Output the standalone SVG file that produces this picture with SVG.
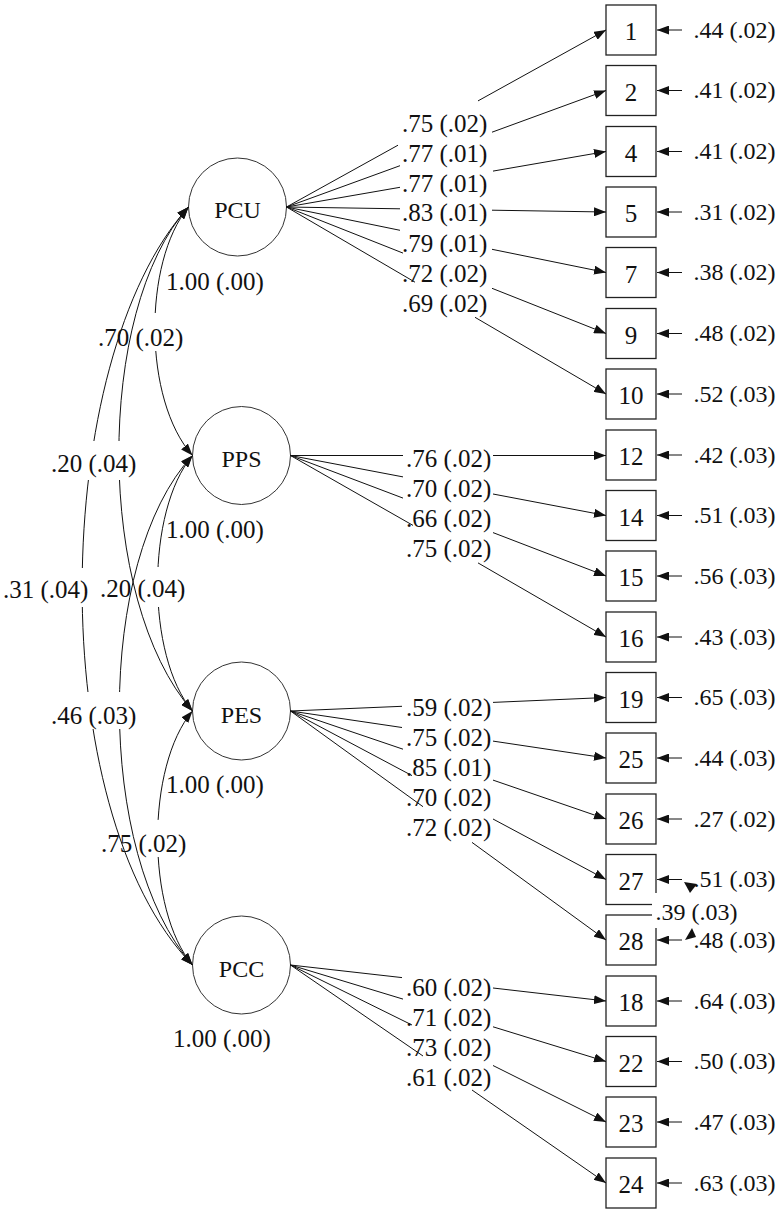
<svg xmlns="http://www.w3.org/2000/svg" width="780" height="1213" viewBox="0 0 780 1213">
<defs>
<marker id="ah" markerUnits="userSpaceOnUse" markerWidth="12" markerHeight="9" refX="12" refY="4.5" orient="auto-start-reverse"><path d="M0,0 L12,4.5 L0,9 z" fill="#111"/></marker>
<style>
.ln{fill:none;stroke:#111;stroke-width:1}
.arr{marker-end:url(#ah)}
.cv{marker-start:url(#ah);marker-end:url(#ah)}
.lat{fill:#fff;stroke:#333;stroke-width:1}
.obs{fill:#fff;stroke:#222;stroke-width:1.3}
.bg{fill:#fff}
text{font-family:"Liberation Serif","Times New Roman",serif;fill:#111}
.lb{font-size:25px}
.er{font-size:24px}
.bx{font-size:25px;text-anchor:middle}
.lt{font-size:24px;text-anchor:middle}
</style>
</defs>
<rect width="780" height="1213" fill="#fff"/>
<g id="nodes">
<g id="PCU"><circle class="lat" cx="237.5" cy="207" r="49"/><text class="lt" x="237.5" y="218">PCU</text></g>
<g id="PPS"><circle class="lat" cx="241.5" cy="455.5" r="49"/><text class="lt" x="241.5" y="467">PPS</text></g>
<g id="PES"><circle class="lat" cx="241.5" cy="711" r="49"/><text class="lt" x="241.5" y="722.5">PES</text></g>
<g id="PCC"><circle class="lat" cx="241.5" cy="965" r="49"/><text class="lt" x="241.5" y="976.5">PCC</text></g>
<g id="i1"><rect class="obs" x="606" y="5" width="50" height="50"/><text class="bx" x="631" y="40">1</text></g>
<g id="i2"><rect class="obs" x="606" y="65.5" width="50" height="50"/><text class="bx" x="631" y="100.5">2</text></g>
<g id="i4"><rect class="obs" x="606" y="126.5" width="50" height="50"/><text class="bx" x="631" y="161.5">4</text></g>
<g id="i5"><rect class="obs" x="606" y="187" width="50" height="50"/><text class="bx" x="631" y="222">5</text></g>
<g id="i7"><rect class="obs" x="606" y="247.5" width="50" height="50"/><text class="bx" x="631" y="282.5">7</text></g>
<g id="i9"><rect class="obs" x="606" y="308.5" width="50" height="50"/><text class="bx" x="631" y="343.5">9</text></g>
<g id="i10"><rect class="obs" x="606" y="369" width="50" height="50"/><text class="bx" x="631" y="404">10</text></g>
<g id="i12"><rect class="obs" x="606" y="430" width="50" height="50"/><text class="bx" x="631" y="465">12</text></g>
<g id="i14"><rect class="obs" x="606" y="490.5" width="50" height="50"/><text class="bx" x="631" y="525.5">14</text></g>
<g id="i15"><rect class="obs" x="606" y="551" width="50" height="50"/><text class="bx" x="631" y="586">15</text></g>
<g id="i16"><rect class="obs" x="606" y="612" width="50" height="50"/><text class="bx" x="631" y="647">16</text></g>
<g id="i19"><rect class="obs" x="606" y="672.5" width="50" height="50"/><text class="bx" x="631" y="707.5">19</text></g>
<g id="i25"><rect class="obs" x="606" y="733" width="50" height="50"/><text class="bx" x="631" y="768">25</text></g>
<g id="i26"><rect class="obs" x="606" y="794" width="50" height="50"/><text class="bx" x="631" y="829">26</text></g>
<g id="i27"><rect class="obs" x="606" y="854.5" width="50" height="50"/><text class="bx" x="631" y="889.5">27</text></g>
<g id="i28"><rect class="obs" x="606" y="915" width="50" height="50"/><text class="bx" x="631" y="950">28</text></g>
<g id="i18"><rect class="obs" x="606" y="976" width="50" height="50"/><text class="bx" x="631" y="1011">18</text></g>
<g id="i22"><rect class="obs" x="606" y="1036.5" width="50" height="50"/><text class="bx" x="631" y="1071.5">22</text></g>
<g id="i23"><rect class="obs" x="606" y="1097" width="50" height="50"/><text class="bx" x="631" y="1132">23</text></g>
<g id="i24"><rect class="obs" x="606" y="1158" width="50" height="50"/><text class="bx" x="631" y="1193">24</text></g>
</g>
<g id="connectors">
<!-- loadings PCU -->
<path class="ln" d="M286.5,207 L398,145.2"/><path class="ln arr" d="M478,100.9 L606,30"/>
<path class="ln" d="M286.5,207 L400,165.7"/><path class="ln arr" d="M492,132.2 L606,90.5"/>
<path class="ln" d="M286.5,207 L400,187.3"/><path class="ln arr" d="M493,171.1 L606,151.5"/>
<path class="ln" d="M286.5,207 L400,208.8"/><path class="ln arr" d="M492,210.2 L606,212"/>
<path class="ln" d="M286.5,207 L400,230.3"/><path class="ln arr" d="M492,249.3 L606,272.5"/>
<path class="ln" d="M286.5,207 L403,253.1"/><path class="ln arr" d="M492,288.3 L606,333.5"/>
<path class="ln" d="M286.5,207 L415,282.2"/><path class="ln arr" d="M475,317.3 L606,394"/>
<!-- loadings PPS -->
<path class="ln" d="M290.5,455.5 L403,455.5"/><path class="ln arr" d="M493,455.5 L606,455.5"/>
<path class="ln" d="M290.5,455.5 L403,476.9"/><path class="ln arr" d="M493,494 L606,515.5"/>
<path class="ln" d="M290.5,455.5 L403,498.1"/><path class="ln arr" d="M493,532.6 L606,576"/>
<path class="ln" d="M290.5,455.5 L413,525.4"/><path class="ln arr" d="M478,562.9 L606,637"/>
<!-- loadings PES -->
<path class="ln" d="M290.5,711 L402,706.3"/><path class="ln arr" d="M493,702.4 L606,697.5"/>
<path class="ln" d="M290.5,711 L402,727.5"/><path class="ln arr" d="M493,741.1 L606,758"/>
<path class="ln" d="M290.5,711 L403,749.2"/><path class="ln arr" d="M493,780.1 L606,819"/>
<path class="ln" d="M290.5,711 L412,775.6"/><path class="ln arr" d="M493,819 L606,879.5"/>
<path class="ln" d="M290.5,711 L423,806.7"/><path class="ln arr" d="M472,842.4 L606,940"/>
<!-- loadings PCC -->
<path class="ln" d="M290.5,965 L402,977.6"/><path class="ln arr" d="M493,988 L606,1001"/>
<path class="ln" d="M290.5,965 L403,999.1"/><path class="ln arr" d="M493,1026.8 L606,1061.5"/>
<path class="ln" d="M290.5,965 L412,1025"/><path class="ln arr" d="M493,1065.5 L606,1122"/>
<path class="ln" d="M290.5,965 L423,1056"/><path class="ln arr" d="M472,1090 L606,1183"/>
<!-- error arrows -->
<path class="ln arr" d="M682,30 L657,30"/>
<path class="ln arr" d="M682,90.5 L657,90.5"/>
<path class="ln arr" d="M682,151.5 L657,151.5"/>
<path class="ln arr" d="M682,212 L657,212"/>
<path class="ln arr" d="M682,272.5 L657,272.5"/>
<path class="ln arr" d="M682,333.5 L657,333.5"/>
<path class="ln arr" d="M682,394 L657,394"/>
<path class="ln arr" d="M682,455 L657,455"/>
<path class="ln arr" d="M682,515.5 L657,515.5"/>
<path class="ln arr" d="M682,576 L657,576"/>
<path class="ln arr" d="M682,637 L657,637"/>
<path class="ln arr" d="M682,697.5 L657,697.5"/>
<path class="ln arr" d="M682,758 L657,758"/>
<path class="ln arr" d="M682,819 L657,819"/>
<path class="ln arr" d="M682,879.5 L657,879.5"/>
<path class="ln arr" d="M682,940 L657,940"/>
<path class="ln arr" d="M682,1001 L657,1001"/>
<path class="ln arr" d="M682,1061.5 L657,1061.5"/>
<path class="ln arr" d="M682,1122 L657,1122"/>
<path class="ln arr" d="M682,1183 L657,1183"/>
<!-- error covariance 27-28 -->
<rect class="bg" x="652" y="893" width="88" height="35"/>
<polygon points="684,882 697,884 690,893" fill="#111"/>
<polygon points="685,940 696,937 692,928" fill="#111"/>
<!-- latent covariances -->
<path class="ln cv" d="M188.5,207 C143,262 143,400 192.5,455.5"/>
<rect class="bg" x="98" y="313" width="87" height="38"/>
<path class="ln cv" d="M192.5,455.5 C146,511 146,656 192.5,711"/>
<rect class="bg" x="100" y="567" width="88" height="40"/>
<path class="ln cv" d="M192.5,711 C146,766 146,910 192.5,965"/>
<rect class="bg" x="100" y="820" width="88" height="37"/>
<path class="ln cv" d="M188.5,207 C95,310 95,600 192.5,711"/>
<path class="ln cv" d="M188.5,207 C50,360 42,810 192.5,965"/>
<path class="ln cv" d="M192.5,455.5 C95,560 95,855 192.5,965"/>
<rect class="bg" x="50" y="441" width="86" height="39"/>
<rect class="bg" x="2" y="568" width="84" height="39"/>
<rect class="bg" x="50" y="692" width="88" height="37"/>
<!-- labels -->
<g class="lb">
<text x="402" y="131.5">.75 (.02)</text>
<text x="402" y="161.5">.77 (.01)</text>
<text x="402" y="191.5">.77 (.01)</text>
<text x="402" y="221">.83 (.01)</text>
<text x="402" y="251.5">.79 (.01)</text>
<text x="402" y="281.5">.72 (.02)</text>
<text x="402" y="311.5">.69 (.02)</text>
<text x="406" y="466.5">.76 (.02)</text>
<text x="406" y="496.5">.70 (.02)</text>
<text x="406" y="526.5">.66 (.02)</text>
<text x="406" y="557">.75 (.02)</text>
<text x="406" y="715.5">.59 (.02)</text>
<text x="406" y="745.5">.75 (.02)</text>
<text x="406" y="775.5">.85 (.01)</text>
<text x="406" y="805.5">.70 (.02)</text>
<text x="406" y="836">.72 (.02)</text>
<text x="406" y="995.5">.60 (.02)</text>
<text x="406" y="1025.5">.71 (.02)</text>
<text x="406" y="1055.5">.73 (.02)</text>
<text x="406" y="1085.5">.61 (.02)</text>
<text x="98" y="345.5">.70 (.02)</text>
<text x="51" y="471.5">.20 (.04)</text>
<text x="3" y="597.5">.31 (.04)</text>
<text x="100" y="596.5">.20 (.04)</text>
<text x="51" y="723.5">.46 (.03)</text>
<text x="101" y="851.5">.75 (.02)</text>
<text x="166" y="289.5">1.00 (.00)</text>
<text x="166" y="537.5">1.00 (.00)</text>
<text x="166" y="792.5">1.00 (.00)</text>
<text x="173" y="1047">1.00 (.00)</text>
</g>
<g class="er">
<text x="693.5" y="37.5">.44 (.02)</text>
<text x="693.5" y="98">.41 (.02)</text>
<text x="693.5" y="159">.41 (.02)</text>
<text x="693.5" y="219.5">.31 (.02)</text>
<text x="693.5" y="280">.38 (.02)</text>
<text x="693.5" y="341">.48 (.02)</text>
<text x="693.5" y="401.5">.52 (.03)</text>
<text x="693.5" y="462.5">.42 (.03)</text>
<text x="693.5" y="523">.51 (.03)</text>
<text x="693.5" y="583.5">.56 (.03)</text>
<text x="693.5" y="644.5">.43 (.03)</text>
<text x="693.5" y="705">.65 (.03)</text>
<text x="693.5" y="765.5">.44 (.03)</text>
<text x="693.5" y="826.5">.27 (.02)</text>
<text x="693.5" y="887">.51 (.03)</text>
<text x="693.5" y="947.5">.48 (.03)</text>
<text x="693.5" y="1008.5">.64 (.03)</text>
<text x="693.5" y="1069">.50 (.03)</text>
<text x="693.5" y="1129.5">.47 (.03)</text>
<text x="693.5" y="1190.5">.63 (.03)</text>
<text x="655.5" y="920">.39 (.03)</text>
</g>
</g>
</svg>
